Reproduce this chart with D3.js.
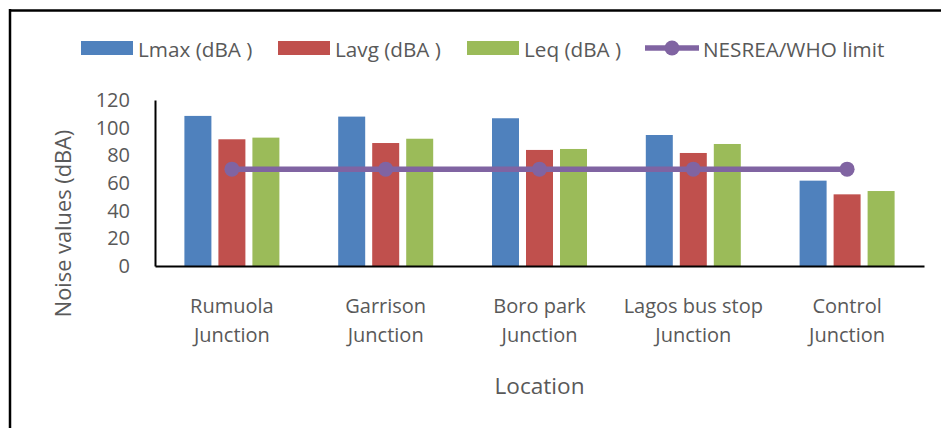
<!DOCTYPE html>
<html>
<head>
<meta charset="utf-8">
<script src="https://cdn.jsdelivr.net/npm/d3@7"></script>
<style>
  html, body { margin: 0; padding: 0; background: #fff; }
  svg { display: block; }
  text { font-family: "Open Sans", "Noto Sans", sans-serif; fill: #595959; }
</style>
</head>
<body>
<svg id="chart" width="941" height="428"></svg>
<script>
const categories = [
  ["Rumuola", "Junction"],
  ["Garrison", "Junction"],
  ["Boro park", "Junction"],
  ["Lagos bus stop", "Junction"],
  ["Control", "Junction"]
];
const seriesNames = ["Lmax (dBA )", "Lavg (dBA )", "Leq (dBA )"];
const lmax = [108.5, 108, 106.8, 94.7, 61.7];
const lavg = [91.6, 88.9, 83.9, 81.7, 51.8];
const leq  = [92.8, 92, 84.6, 88.2, 54.2];
const limitName = "NESREA/WHO limit";
const limit = [70, 70, 70, 70, 70];
const yTicks = [0, 20, 40, 60, 80, 100, 120];
const colors = ["#4F81BD", "#C0504D", "#9BBB59"];
const limitColor = "#8064A2";

const svg = d3.select("#chart");
const plot = { left: 155, right: 924, top: 100, bottom: 266 };

// Frame
svg.append("line").attr("x1", 9).attr("x2", 941).attr("y1", 10.5).attr("y2", 10.5)
  .attr("stroke", "#000").attr("stroke-width", 2.5);
svg.append("line").attr("x1", 10).attr("x2", 10).attr("y1", 9).attr("y2", 428)
  .attr("stroke", "#000").attr("stroke-width", 2.5);

const catKeys = categories.map(c => c.join(" "));
const x0 = d3.scaleBand().domain(catKeys).range([plot.left, plot.right]).padding(0);
const groupW = 95;
const x1 = d3.scaleBand().domain(seriesNames)
  .range([x0.bandwidth() / 2 - groupW / 2, x0.bandwidth() / 2 + groupW / 2])
  .paddingInner(0.206).paddingOuter(0);
const y = d3.scaleLinear().domain([0, 120]).range([plot.bottom, plot.top]);

const seriesVals = [lmax, lavg, leq];

// Bars
seriesVals.forEach((vals, si) => {
  svg.append("g").selectAll("rect").data(vals).enter().append("rect")
    .attr("x", (d, i) => x0(catKeys[i]) + x1(seriesNames[si]))
    .attr("y", d => y(d))
    .attr("width", x1.bandwidth())
    .attr("height", d => y(0) - y(d))
    .attr("fill", colors[si]);
});

// Y axis
const yAxis = d3.axisLeft(y).tickValues(yTicks).tickSize(0).tickPadding(25);
const gy = svg.append("g").attr("transform", `translate(${plot.left},0)`).call(yAxis);
gy.select(".domain").attr("stroke", "#000").attr("stroke-width", 2);
gy.selectAll("text").style("font-size", "20px").attr("fill", "#595959")
  .style("font-family", "'Open Sans', sans-serif");

// X axis
const xAxis = d3.axisBottom(x0).tickSize(0).tickFormat(() => "");
const gx = svg.append("g").attr("transform", `translate(0,${plot.bottom})`).call(xAxis);
gx.select(".domain").attr("stroke", "#000").attr("stroke-width", 2);

// Category labels (two lines)
categories.forEach((c, i) => {
  const cx = x0(catKeys[i]) + x0.bandwidth() / 2;
  const t = svg.append("text").attr("text-anchor", "middle")
    .style("font-size", "20px");
  t.append("tspan").attr("x", cx).attr("y", 313).text(c[0]);
  t.append("tspan").attr("x", cx).attr("y", 342).text(c[1]);
});

// Limit line
const cxOf = i => x0(catKeys[i]) + x0.bandwidth() / 2;
const line = d3.line().x((d, i) => cxOf(i)).y(d => y(d));
svg.append("path").datum(limit).attr("d", line)
  .attr("fill", "none").attr("stroke", limitColor).attr("stroke-width", 5.5);
svg.append("g").selectAll("circle").data(limit).enter().append("circle")
  .attr("cx", (d, i) => cxOf(i)).attr("cy", d => y(d)).attr("r", 7.5)
  .attr("fill", limitColor);

// Axis titles
svg.append("text").attr("transform", "translate(71,223.5) rotate(-90)")
  .attr("text-anchor", "middle").style("font-size", "21.8px").text("Noise values (dBA)");
svg.append("text").attr("x", (plot.left + plot.right) / 2).attr("y", 394)
  .attr("text-anchor", "middle").style("font-size", "22.6px").text("Location");

// Legend
const legY = 48;
const legItems = [
  { name: seriesNames[0], color: colors[0], x: 81, type: "rect" },
  { name: seriesNames[1], color: colors[1], x: 278, type: "rect" },
  { name: seriesNames[2], color: colors[2], x: 467, type: "rect" },
  { name: limitName, color: limitColor, x: 645, type: "line" }
];
legItems.forEach(it => {
  const g = svg.append("g");
  if (it.type === "rect") {
    g.append("rect").attr("x", it.x).attr("y", legY - 7).attr("width", 52).attr("height", 14)
      .attr("fill", it.color);
  } else {
    g.append("line").attr("x1", it.x).attr("x2", it.x + 54).attr("y1", legY).attr("y2", legY)
      .attr("stroke", it.color).attr("stroke-width", 5.5);
    g.append("circle").attr("cx", it.x + 27).attr("cy", legY).attr("r", 7.5).attr("fill", it.color);
  }
  g.append("text").attr("x", it.x + (it.type === "rect" ? 57 : 58)).attr("y", legY + 8.5)
    .style("font-size", "20.7px").text(it.name);
});
</script>
</body>
</html>
